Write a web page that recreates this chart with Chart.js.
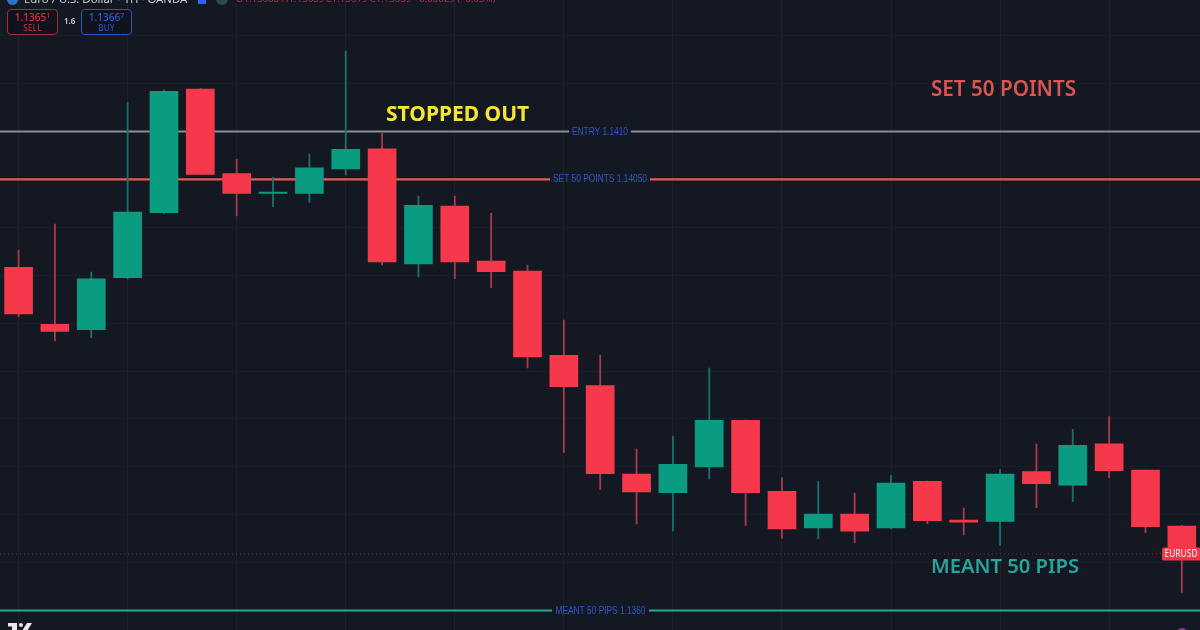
<!DOCTYPE html>
<html>
<head>
<meta charset="utf-8">
<title>EURUSD 1H</title>
<script src="https://cdn.jsdelivr.net/npm/chart.js@4"></script>
<style>
    html, body { margin: 0; padding: 0; background: #141823; overflow: hidden; }
    #wrap { position: relative; width: 1200px; height: 630px; overflow: hidden; font-family: "Noto Sans", sans-serif; }
    canvas { position: absolute; left: 0; top: 0; }
    .hdr { position: absolute; top: -8px; font-size: 11.4px; line-height: 14px; white-space: nowrap; color: #c9ccd6; }
    .btn { position: absolute; top: 9px; width: 49px; height: 24px; border-radius: 4px; background: #10131b; text-align: center; }
    .btn .p { font-size: 10px; font-weight: 500; line-height: 12px; margin-top: 1px; }
    .btn .p sup { font-size: 7px; line-height: 0; vertical-align: 3px; }
    .btn .s { font-size: 8px; line-height: 9px; letter-spacing: 0.3px; }
    #sell { left: 7px; border: 1px solid #9c2f3a; color: #d9323f; }
    #buy { left: 81px; border: 1px solid #2a54c4; color: #2c5bdc; }
    #spread { position: absolute; left: 64px; top: 16px; font-size: 8px; font-weight: 600; line-height: 10px; color: #d1d4dc; }
</style>
</head>
<body>
<div id="wrap">
    <canvas id="grafico" width="1200" height="630"></canvas>
    <span style="position:absolute;left:7px;top:-6px;width:11px;height:11px;border-radius:50%;background:#2f6fc8"></span>
    <span class="hdr" style="left:24px">Euro / U.S. Dollar · 1H · OANDA</span>
    <span style="position:absolute;left:198px;top:-4px;width:8px;height:8px;background:#2962ff"></span>
    <span style="position:absolute;left:216px;top:-7px;width:12px;height:12px;border-radius:50%;background:#2f4a48"></span>
    <span class="hdr" style="left:236px;font-size:9.6px;color:#b8294a">O1.13688 H1.13689 L1.13619 C1.13659 −0.00029 (−0.03%)</span>
    <div class="btn" id="sell"><div class="p">1.1365<sup>1</sup></div><div class="s">SELL</div></div>
    <div id="spread">1.6</div>
    <div class="btn" id="buy"><div class="p">1.1366<sup>7</sup></div><div class="s">BUY</div></div>
    <svg style="position:absolute;left:8px;top:622px" width="26" height="8" viewBox="0 0 26 8">
        <rect x="0" y="1" width="9" height="3.5" fill="#e8e8ea"/>
        <rect x="4" y="1" width="5" height="8" fill="#e8e8ea"/>
        <circle cx="13" cy="3" r="2" fill="#e8e8ea"/>
        <polygon points="19,1 24,1 19,9 14,9" fill="#e8e8ea"/>
    </svg>
    <span style="position:absolute;left:1176px;top:628px;width:12px;height:12px;border-radius:50%;background:#8a3f8f"></span>
</div>
<script>
const velas = ['1','2','3','4','5','6','7','8','9','10','11','12','13','14','15','16','17','18','19','20','21','22','23','24','25','26','27','28','29','30','31','32','33'];

const aberturas = [1.139582, 1.138988, 1.138931, 1.139474, 1.140152, 1.141444, 1.140560, 1.140355, 1.140355, 1.140609, 1.140820, 1.139617, 1.140222, 1.139648, 1.139544, 1.138664, 1.138347, 1.137425, 1.137230, 1.137498, 1.137985, 1.137244, 1.136861, 1.137007, 1.136861, 1.137349, 1.136945, 1.136931, 1.137449, 1.137307, 1.137741, 1.137467, 1.136882];
const maximos = [1.139763, 1.140034, 1.139533, 1.141305, 1.141433, 1.141449, 1.140713, 1.140522, 1.140765, 1.141840, 1.140990, 1.140327, 1.140327, 1.140146, 1.139603, 1.139032, 1.138667, 1.137686, 1.137822, 1.138531, 1.137989, 1.137386, 1.137349, 1.137226, 1.137411, 1.137352, 1.137070, 1.137474, 1.137738, 1.137891, 1.138023, 1.137467, 1.136889];
const minimos = [1.139064, 1.138813, 1.138848, 1.139460, 1.140144, 1.140553, 1.140118, 1.140215, 1.140261, 1.140546, 1.139606, 1.139481, 1.139463, 1.139370, 1.138531, 1.137647, 1.137265, 1.136903, 1.136830, 1.137370, 1.136889, 1.136754, 1.136750, 1.136708, 1.136851, 1.136906, 1.136788, 1.136681, 1.137073, 1.137136, 1.137386, 1.136812, 1.136190];
const fechamentos = [1.139095, 1.138914, 1.139463, 1.140160, 1.141420, 1.140553, 1.140355, 1.140368, 1.140622, 1.140814, 1.139638, 1.140230, 1.139638, 1.139537, 1.138646, 1.138336, 1.137428, 1.137237, 1.137526, 1.137985, 1.137230, 1.136851, 1.137007, 1.136827, 1.137331, 1.136937, 1.136921, 1.137425, 1.137324, 1.137724, 1.137459, 1.136875, 1.136590];

const niveisPreco = [1.1410, 1.14050, 1.1360];
const niveisTexto = ['ENTRY 1.1410', 'SET 50 POINTS 1.14050', 'MEANT 50 PIPS 1.1360'];
const niveisCor = ['#8a8d96', '#e85a50', '#2ba596'];
const precoAtual = 1.136590;

const VERMELHO = '#f5394a';
const VERDE = '#0a9c80';
const corVela = velas.map((v, i) => fechamentos[i] >= aberturas[i] ? VERDE : VERMELHO);
const corPavio = velas.map((v, i) => fechamentos[i] >= aberturas[i] ? '#1a6f68' : '#a8394a');

// linhas horizontais com o texto no meio, por baixo das velas
const pluginNiveis = {
    id: 'niveis',
    beforeDatasetsDraw(chart) {
        const ctx = chart.ctx;
        const y = chart.scales.y;
        const larguras = [[569, 631, 56], [550, 650, 94], [552, 649, 90]];
        ctx.save();
        niveisPreco.forEach((preco, i) => {
            const py = y.getPixelForValue(preco);
            const [ini, fim, larg] = larguras[i];
            ctx.strokeStyle = niveisCor[i];
            ctx.lineWidth = 2.2;
            ctx.beginPath();
            ctx.moveTo(0, py);
            ctx.lineTo(ini, py);
            ctx.moveTo(fim, py);
            ctx.lineTo(1200, py);
            ctx.stroke();
            ctx.fillStyle = '#2c58cc';
            ctx.font = '11px "Liberation Sans"';
            ctx.textAlign = 'center';
            ctx.textBaseline = 'middle';
            ctx.fillText(niveisTexto[i], (ini + fim) / 2, py, larg);
        });
        // preço atual
        const pa = y.getPixelForValue(precoAtual);
        ctx.strokeStyle = 'rgba(242, 54, 69, 0.55)';
        ctx.lineWidth = 1;
        ctx.setLineDash([1, 3]);
        ctx.beginPath();
        ctx.moveTo(0, pa);
        ctx.lineTo(1162, pa);
        ctx.stroke();
        ctx.restore();
    },
    afterDatasetsDraw(chart) {
        const ctx = chart.ctx;
        const pa = chart.scales.y.getPixelForValue(precoAtual);
        ctx.save();
        ctx.fillStyle = '#f23645';
        ctx.beginPath();
        ctx.roundRect(1162, pa - 6.5, 40, 13, 2);
        ctx.fill();
        ctx.fillStyle = '#f4e4e6';
        ctx.font = '500 10px "Noto Sans"';
        ctx.textAlign = 'center';
        ctx.textBaseline = 'middle';
        ctx.fillText('EURUSD', 1181, pa, 33);

        ctx.textAlign = 'left';
        ctx.font = '700 21px "Noto Sans"';
        ctx.fillStyle = '#f5e633';
        ctx.fillText('STOPPED OUT', 386, 115, 146);
        ctx.font = '600 20.7px "Noto Sans"';
        ctx.fillStyle = '#dc5550';
        ctx.fillText('SET 50 POINTS', 931, 90, 145);
        ctx.font = '600 20.2px "Noto Sans"';
        ctx.fillStyle = '#26a69a';
        ctx.fillText('MEANT 50 PIPS', 931, 567, 148);
        ctx.restore();
    }
};

new Chart(document.getElementById('grafico'), {
    type: 'bar',
    data: {
        labels: velas,
        datasets: [
            {
                label: 'pavio',
                data: velas.map((v, i) => [minimos[i], maximos[i]]),
                backgroundColor: corPavio,
                barThickness: 1.2,
                grouped: false,
                borderSkipped: false,
                order: 2
            },
            {
                label: 'corpo',
                data: velas.map((v, i) => [aberturas[i], fechamentos[i]]),
                backgroundColor: corVela,
                barThickness: 28,
                grouped: false,
                borderSkipped: false,
                order: 1
            }
        ]
    },
    options: {
        responsive: false,
        animation: false,
        layout: { padding: { left: 0.4 } },
        plugins: { legend: { display: false }, tooltip: { enabled: false } },
        scales: {
            x: {
                offset: true,
                border: { display: false },
                ticks: { display: false, autoSkip: false },
                grid: {
                    offset: false,
                    drawTicks: false,
                    color: ctx => ctx.index % 3 === 0 ? '#1d212c' : 'rgba(0,0,0,0)'
                }
            },
            y: {
                min: 1.1357965,
                max: 1.1423727,
                border: { display: false },
                ticks: { display: false, stepSize: 0.0005, includeBounds: false },
                grid: { drawTicks: false, color: '#1a1e29' }
            }
        }
    },
    plugins: [pluginNiveis]
});
</script>
</body>
</html>
